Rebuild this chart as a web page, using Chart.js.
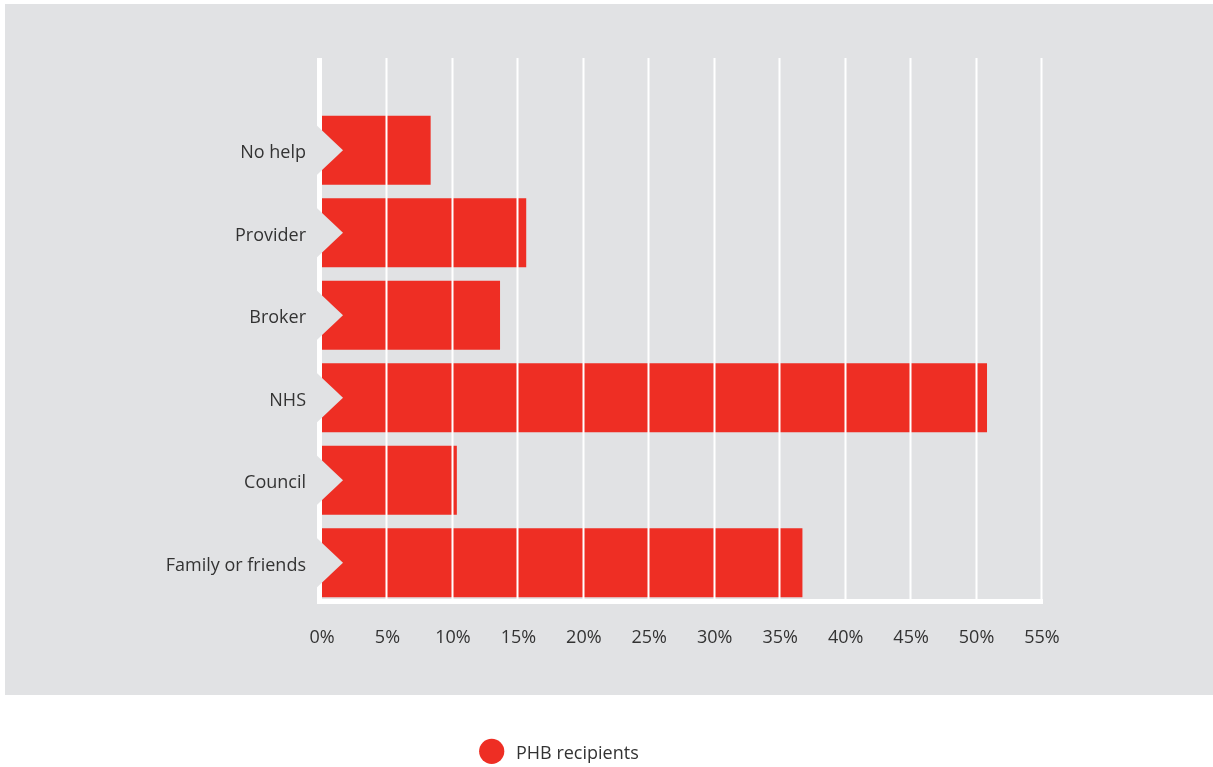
<!DOCTYPE html>
<html>
<head>
<meta charset="utf-8">
<script src="https://cdn.jsdelivr.net/npm/chart.js@4/dist/chart.umd.min.js"></script>
<style>
html,body{margin:0;padding:0;background:#fff;}
#wrap{width:1213px;height:767px;position:relative;}
</style>
</head>
<body>
<div id="wrap"><canvas id="c" width="1213" height="767"></canvas></div>
<script>
const categories = ["No help", "Provider", "Broker", "NHS", "Council", "Family or friends"];
const phbRecipients = [8.3, 15.6, 13.6, 50.8, 10.3, 36.7];
const seriesName = "PHB recipients";
const xTicks = [0, 5, 10, 15, 20, 25, 30, 35, 40, 45, 50, 55];

const PANEL = '#e1e2e4';
const RED = '#ee2e24';
const TEXT = '#333333';
const FONT = "'Open Sans', 'Noto Sans', sans-serif";

const decor = {
  id: 'decor',
  beforeDraw(chart) {
    const ctx = chart.ctx;
    ctx.save();
    ctx.fillStyle = '#ffffff';
    ctx.fillRect(0, 0, chart.width, chart.height);
    ctx.fillStyle = PANEL;
    ctx.fillRect(5, 4, 1208, 691);
    ctx.restore();
  },
  afterDatasetsDraw(chart) {
    const ctx = chart.ctx;
    const xs = chart.scales.x;
    const area = chart.chartArea;
    const meta = chart.getDatasetMeta(0);
    ctx.save();
    // gridlines drawn over bars
    ctx.strokeStyle = '#ffffff';
    ctx.lineWidth = 2;
    xs.ticks.forEach(t => {
      if (t.value === 0) return;
      const px = Math.round(xs.getPixelForValue(t.value)) - 0.5;
      ctx.beginPath();
      ctx.moveTo(px, 58);
      ctx.lineTo(px, area.bottom);
      ctx.stroke();
    });
    // left axis line
    ctx.fillStyle = '#ffffff';
    ctx.fillRect(area.left - 5, 58, 5, area.bottom - 58);
    // bottom axis line
    ctx.fillRect(area.left - 5, 599, xs.getPixelForValue(55) - area.left + 6, 5);
    // chevron notches
    ctx.fillStyle = PANEL;
    meta.data.forEach(bar => {
      const cy = bar.y;
      ctx.beginPath();
      ctx.moveTo(area.left - 6, cy - 25.5);
      ctx.lineTo(area.left + 21, cy);
      ctx.lineTo(area.left - 6, cy + 25.5);
      ctx.closePath();
      ctx.fill();
    });
    ctx.restore();
  },
  afterDraw(chart) {
    const ctx = chart.ctx;
    const ds = chart.data.datasets[0];
    ctx.save();
    ctx.fillStyle = ds.backgroundColor;
    ctx.beginPath();
    ctx.arc(491.7, 751.3, 12.6, 0, Math.PI * 2);
    ctx.fill();
    ctx.fillStyle = TEXT;
    ctx.font = "18px " + FONT;
    ctx.textBaseline = 'middle';
    ctx.textAlign = 'left';
    ctx.fillText(ds.label, 516, 753.5);
    ctx.restore();
  }
};

new Chart(document.getElementById('c'), {
  type: 'bar',
  data: {
    labels: categories,
    datasets: [{
      label: seriesName,
      data: phbRecipients,
      backgroundColor: RED,
      borderWidth: 0,
      categoryPercentage: 1,
      barPercentage: 0.836
    }]
  },
  options: {
    indexAxis: 'y',
    responsive: false,
    animation: false,
    devicePixelRatio: 1,
    layout: { padding: { top: 109, left: 0, right: 171, bottom: 107 } },
    plugins: { legend: { display: false }, tooltip: { enabled: false } },
    scales: {
      x: {
        type: 'linear',
        min: 0, max: 55,
        afterBuildTicks(scale) { scale.ticks = xTicks.map(v => ({ value: v })); },
        afterFit(scale) { scale.height = 56; },
        grid: { display: false, drawTicks: false },
        border: { display: false },
        ticks: {
          color: TEXT,
          font: { family: FONT, size: 18 },
          padding: 23,
          maxRotation: 0,
          autoSkip: false,
          callback: v => v + '%'
        }
      },
      y: {
        afterFit(scale) { scale.width = 322; },
        grid: { display: false, drawTicks: false },
        border: { display: false },
        ticks: {
          color: TEXT,
          font: { family: FONT, size: 18 },
          padding: 16,
          labelOffset: 3
        }
      }
    }
  },
  plugins: [decor]
});
</script>
</body>
</html>
